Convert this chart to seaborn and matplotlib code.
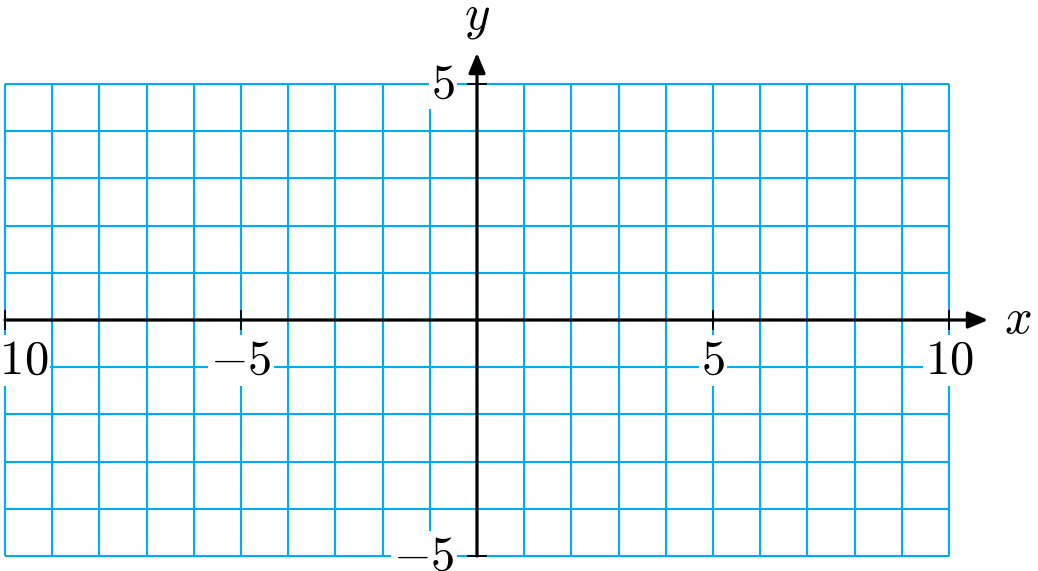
import matplotlib
matplotlib.use('Agg')
import matplotlib.pyplot as plt
import seaborn as sns
import numpy as np

# grid / axis data
x_grid = list(range(-10, 11))
y_grid = list(range(-5, 6))
x_tick_vals = [-10, -5, 5, 10]
x_tick_labels = ['$-10$', '$-5$', '$5$', '$10$']
y_tick_vals = [5, -5]
y_tick_labels = ['$5$', '$-5$']

sns.set_theme(style='white')
plt.rcParams['mathtext.fontset'] = 'cm'
plt.rcParams['font.family'] = ['DejaVu Serif']
plt.rcParams['text.color'] = 'black'

grid_color = '#00AEEF'

fig = plt.figure(figsize=(10.38, 5.71), dpi=100)
ax = fig.add_axes([0, 0, 1, 1])
ax.set_xlim(-10.106, 11.886)
ax.set_ylim(-5.318, 6.78)
ax.axis('off')

# light blue grid
ax.vlines(x_grid, min(y_grid), max(y_grid), color=grid_color, lw=1.5, zorder=1)
ax.hlines(y_grid, min(x_grid), max(x_grid), color=grid_color, lw=1.5, zorder=1)

# axes with arrows
arrow = dict(arrowstyle='-|>,head_length=1.0,head_width=0.42', lw=2.3,
             color='black', shrinkA=0, shrinkB=0)
ax.annotate('', xy=(10.83, 0), xytext=(-10, 0), arrowprops=arrow, zorder=4)
ax.annotate('', xy=(0, 5.66), xytext=(0, -5), arrowprops=arrow, zorder=4)

# tick marks
ax.vlines(x_tick_vals, -0.22, 0.22, color='black', lw=1.3, zorder=4)
ax.hlines(y_tick_vals, -0.22, 0.22, color='black', lw=1.3, zorder=4)

box = dict(facecolor='white', edgecolor='none', pad=1.5)
for v, lab in zip(x_tick_vals, x_tick_labels):
    ax.text(v, -0.36, lab, ha='center', va='top', fontsize=35, color='black',
            bbox=box, zorder=3)
for v, lab in zip(y_tick_vals, y_tick_labels):
    ax.text(-0.47, v, lab, ha='right', va='center', fontsize=35, color='black',
            bbox=box, zorder=3)

ax.text(11.46, 0.02, '$x$', ha='center', va='center', fontsize=35, color='black')
ax.text(0, 6.4, '$y$', ha='center', va='center', fontsize=35, color='black')

fig.savefig('out.png', dpi=100)
